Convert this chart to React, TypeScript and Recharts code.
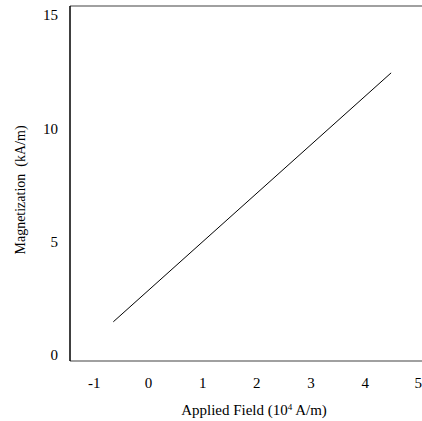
import React from 'react';
import { LineChart, Line, XAxis, YAxis, ReferenceLine } from 'recharts';

const fieldValues = [-0.65, 4.48];
const magnetizationValues = [1.47, 12.45];
const xTicks = [-1, 0, 1, 2, 3, 4, 5];
const yTicks = [0, 5, 10, 15];

const data = fieldValues.map((x, i) => ({ x, y: magnetizationValues[i] }));

const FONT = '"Liberation Serif", "DejaVu Serif", serif';

export default function App() {
  return (
    <div style={{ position: 'absolute', left: 0, top: 0, width: 422, height: 421, background: '#fff' }}>
      <LineChart width={422} height={421} data={data} margin={{ top: 6, right: 0, left: 10, bottom: 30 }}>
        <XAxis
          dataKey="x"
          type="number"
          domain={[-1.45, 5.05]}
          ticks={xTicks}
          allowDataOverflow
          tickLine={false}
          tickSize={0}
          tickMargin={16}
          height={30}
          axisLine={{ stroke: '#808080', strokeWidth: 1.5 }}
          tick={{ fill: '#000', fontSize: 15, fontFamily: FONT }}
          label={{
            content: () => (
              <text x={254} y={415} textAnchor="middle" fontFamily={FONT} fontSize={15} fill="#000">
                Applied Field (10<tspan dy={-5} fontSize={9}>4</tspan><tspan dy={5}> A/m)</tspan>
              </text>
            ),
          }}
        />
        <YAxis
          dataKey="y"
          type="number"
          domain={[-0.26, 15.4]}
          ticks={yTicks}
          allowDataOverflow
          tickLine={false}
          tickSize={0}
          tickMargin={12}
          width={60}
          axisLine={{ stroke: '#000', strokeWidth: 1.5 }}
          tick={{ fill: '#000', fontSize: 15, fontFamily: FONT }}
          label={{
            content: () => (
              <text
                x={25}
                y={190}
                transform="rotate(-90, 25, 190)"
                textAnchor="middle"
                fontFamily={FONT}
                fontSize={14}
                fill="#000"
                style={{ whiteSpace: 'pre' }}
              >
                {'Magnetization  (kA/m)'}
              </text>
            ),
          }}
        />
        <ReferenceLine y={15.4} stroke="#808080" strokeWidth={1.5} ifOverflow="visible" />
        <Line
          type="linear"
          dataKey="y"
          stroke="#000"
          strokeWidth={1}
          dot={false}
          isAnimationActive={false}
        />
      </LineChart>
    </div>
  );
}
